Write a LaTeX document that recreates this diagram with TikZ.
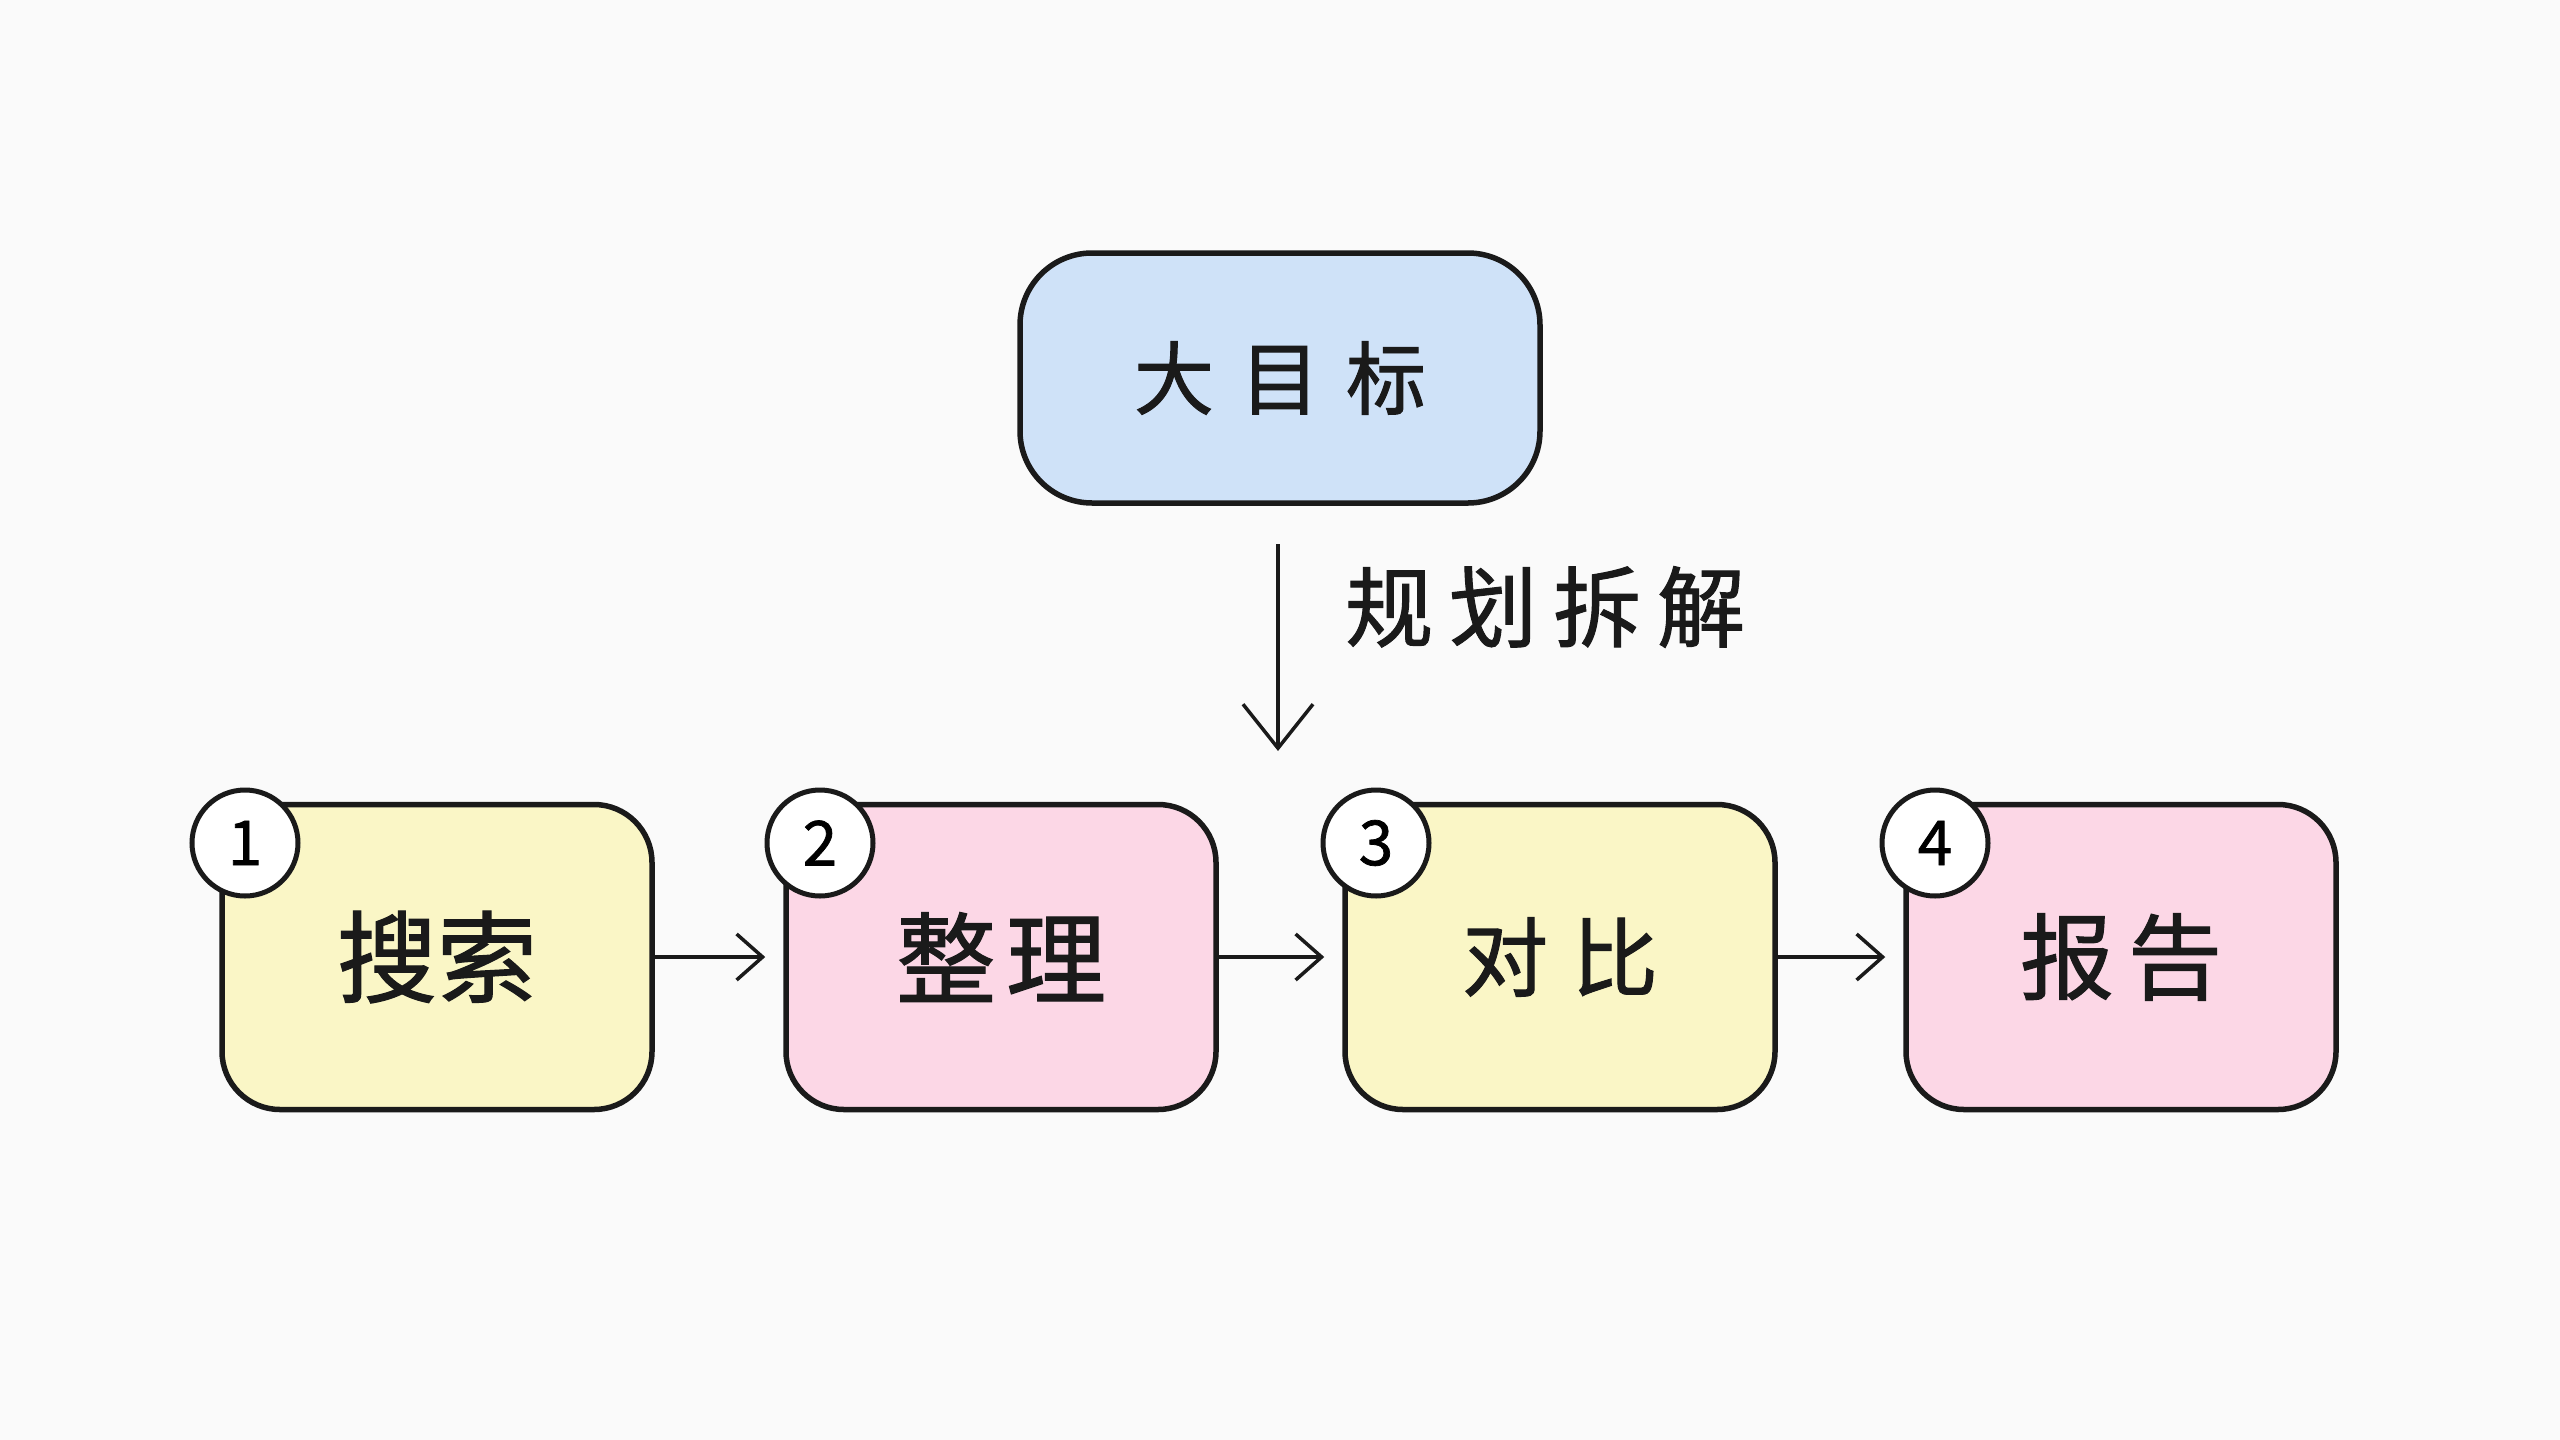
\documentclass[tikz,border=0pt]{standalone}
\usepackage{fontspec}
\newfontfamily\cjk[FakeBold=1.2]{Noto Sans CJK SC}
\usetikzlibrary{arrows.meta}
\definecolor{bgc}{HTML}{FAFAFA}
\definecolor{goalblue}{HTML}{CFE2F8}
\definecolor{stepyellow}{HTML}{FAF6C6}
\definecolor{steppink}{HTML}{FCD7E6}
\definecolor{inkc}{HTML}{1A1A1A}
\tikzset{
  goalbox/.style={draw=inkc, line width=5.5pt, rounded corners=72pt, fill=goalblue,
    minimum width=520pt, minimum height=250pt, inner sep=0pt, font=\cjk\fontsize{80pt}{96pt}\selectfont},
  stepbox/.style={draw=inkc, line width=5.5pt, rounded corners=58pt,
    minimum width=430pt, minimum height=305pt, inner sep=0pt},
  numcirc/.style={circle, draw=inkc, line width=5pt, fill=white, minimum size=106pt, inner sep=0pt,
    font=\cjk\fontsize{62pt}{70pt}\selectfont},
  flow/.style={draw=inkc, line width=3.5pt, -{Straight Barb[length=26pt, width=46pt]}, shorten >=18pt},
  downflow/.style={draw=inkc, line width=3.5pt, -{Straight Barb[length=44pt, width=70pt]}},
  lbl/.style={font=\cjk\fontsize{88pt}{100pt}\selectfont, inner sep=0pt, text=inkc}
}
\begin{document}
\begin{tikzpicture}[x=1pt,y=-1pt]
\fill[bgc] (0,0) rectangle (2560,1440);
\useasboundingbox (0,0) rectangle (2560,1440);

\node[goalbox, text=inkc] (goal) at (1280,378) {大\hspace{26pt}目\hspace{26pt}标};

\node[stepbox, fill=stepyellow, text=inkc, font=\cjk\fontsize{100pt}{110pt}\selectfont] (s1) at (437,957) {搜索};
\node[stepbox, fill=steppink, text=inkc, font=\cjk\fontsize{100pt}{110pt}\selectfont] (s2) at (1001,957) {整\hspace{10pt}理};
\node[stepbox, fill=stepyellow, text=inkc, font=\cjk\fontsize{86pt}{100pt}\selectfont] (s3) at (1560,957) {对\hspace{24pt}比};
\node[stepbox, fill=steppink, text=inkc, font=\cjk\fontsize{94pt}{106pt}\selectfont] (s4) at (2121,957) {报\hspace{14pt}告};

\node[numcirc] (n1) at (245,843) {1};
\node[numcirc] (n2) at (820,843) {2};
\node[numcirc] (n3) at (1376,843) {3};
\node[numcirc] (n4) at (1935,843) {4};

\draw[flow] (s1.east) -- (s2.west);
\draw[flow] (s2.east) -- (s3.west);
\draw[flow] (s3.east) -- (s4.west);

\coordinate (split) at (1278,751);
\coordinate (goalfoot) at (1278,544);
\draw[downflow] (goalfoot) -- (split);

\node[lbl, anchor=west] (plan) at (1345,607) {规\hspace{16pt}划\hspace{16pt}拆\hspace{16pt}解};
\end{tikzpicture}
\end{document}
